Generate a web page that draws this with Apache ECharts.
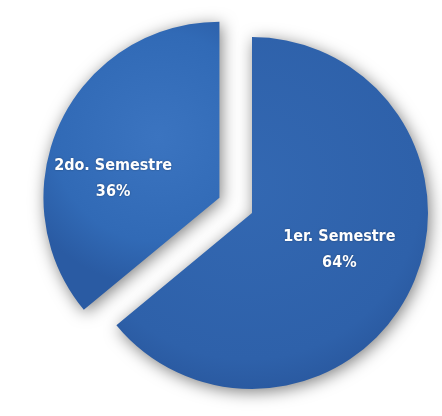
<!DOCTYPE html>
<html>
<head>
<meta charset="utf-8">
<script src="https://cdn.jsdelivr.net/npm/echarts@6/dist/echarts.min.js"></script>
<style>
html,body{margin:0;padding:0;background:#fff;}
#c{width:442px;height:416px;}
</style>
</head>
<body>
<div id="c"></div>
<script>
const categories = ['1er. Semestre', '2do. Semestre'];
const values = [64, 36];
const selectedFlags = [false, true];

const colors = [
  {type:'radial', x:0.42, y:0.42, r:0.8, colorStops:[{offset:0,color:'#3368b2'},{offset:0.7,color:'#2e61aa'},{offset:1,color:'#244f93'}]},
  {type:'radial', x:0.65, y:0.4, r:0.85, colorStops:[{offset:0,color:'#3b74c0'},{offset:0.7,color:'#316ab6'},{offset:1,color:'#2a5ba3'}]}
];
// padding used to nudge label text inside its slice: [top, right, bottom, left]
const labelPaddings = [[0, 0, 4, 10], [0, 48, 0, 0]];
// height of an empty spacer line above each label (shifts text down)
const labelSpacers = [0, 40];

const font = {
  color: '#ffffff',
  fontFamily: '"DejaVu Sans Condensed", "Liberation Sans Narrow", "DejaVu Sans", sans-serif',
  fontWeight: 'bold',
  fontSize: 16,
  textShadowBlur: 2,
  textShadowColor: 'rgba(0,0,0,0.35)'
};

const total = values.reduce((a,b)=>a+b,0);
const data = categories.map((name,i)=>({
  name: name,
  value: values[i],
  selected: selectedFlags[i],
  itemStyle: {color: colors[i]},
  label: {
    padding: labelPaddings[i],
    formatter: function(p){
      const txt = '{n|' + p.name + '}\n{p|' + Math.round(p.value/total*100) + '%}';
      return labelSpacers[i] ? '{e| }\n' + txt : txt;
    },
    rich: {
      e: Object.assign({}, font, {lineHeight: labelSpacers[i] || 1}),
      n: Object.assign({}, font, {lineHeight: 26}),
      p: Object.assign({}, font, {lineHeight: 26})
    }
  }
}));

const chart = echarts.init(document.getElementById('c'));
chart.setOption({
  animation: false,
  backgroundColor: '#ffffff',
  series: [{
    type: 'pie',
    center: [252, 213],
    radius: 176,
    startAngle: 90,
    clockwise: true,
    selectedMode: 'single',
    selectedOffset: 36,
    avoidLabelOverlap: false,
    data: data,
    itemStyle: {
      shadowBlur: 16,
      shadowColor: 'rgba(0,0,0,0.5)',
      shadowOffsetX: 2,
      shadowOffsetY: 3,
      borderWidth: 0
    },
    label: Object.assign({
      show: true,
      position: 'inside'
    }, font),
    labelLine: {show: false},
    emphasis: {disabled: true}
  }]
});
</script>
</body>
</html>
